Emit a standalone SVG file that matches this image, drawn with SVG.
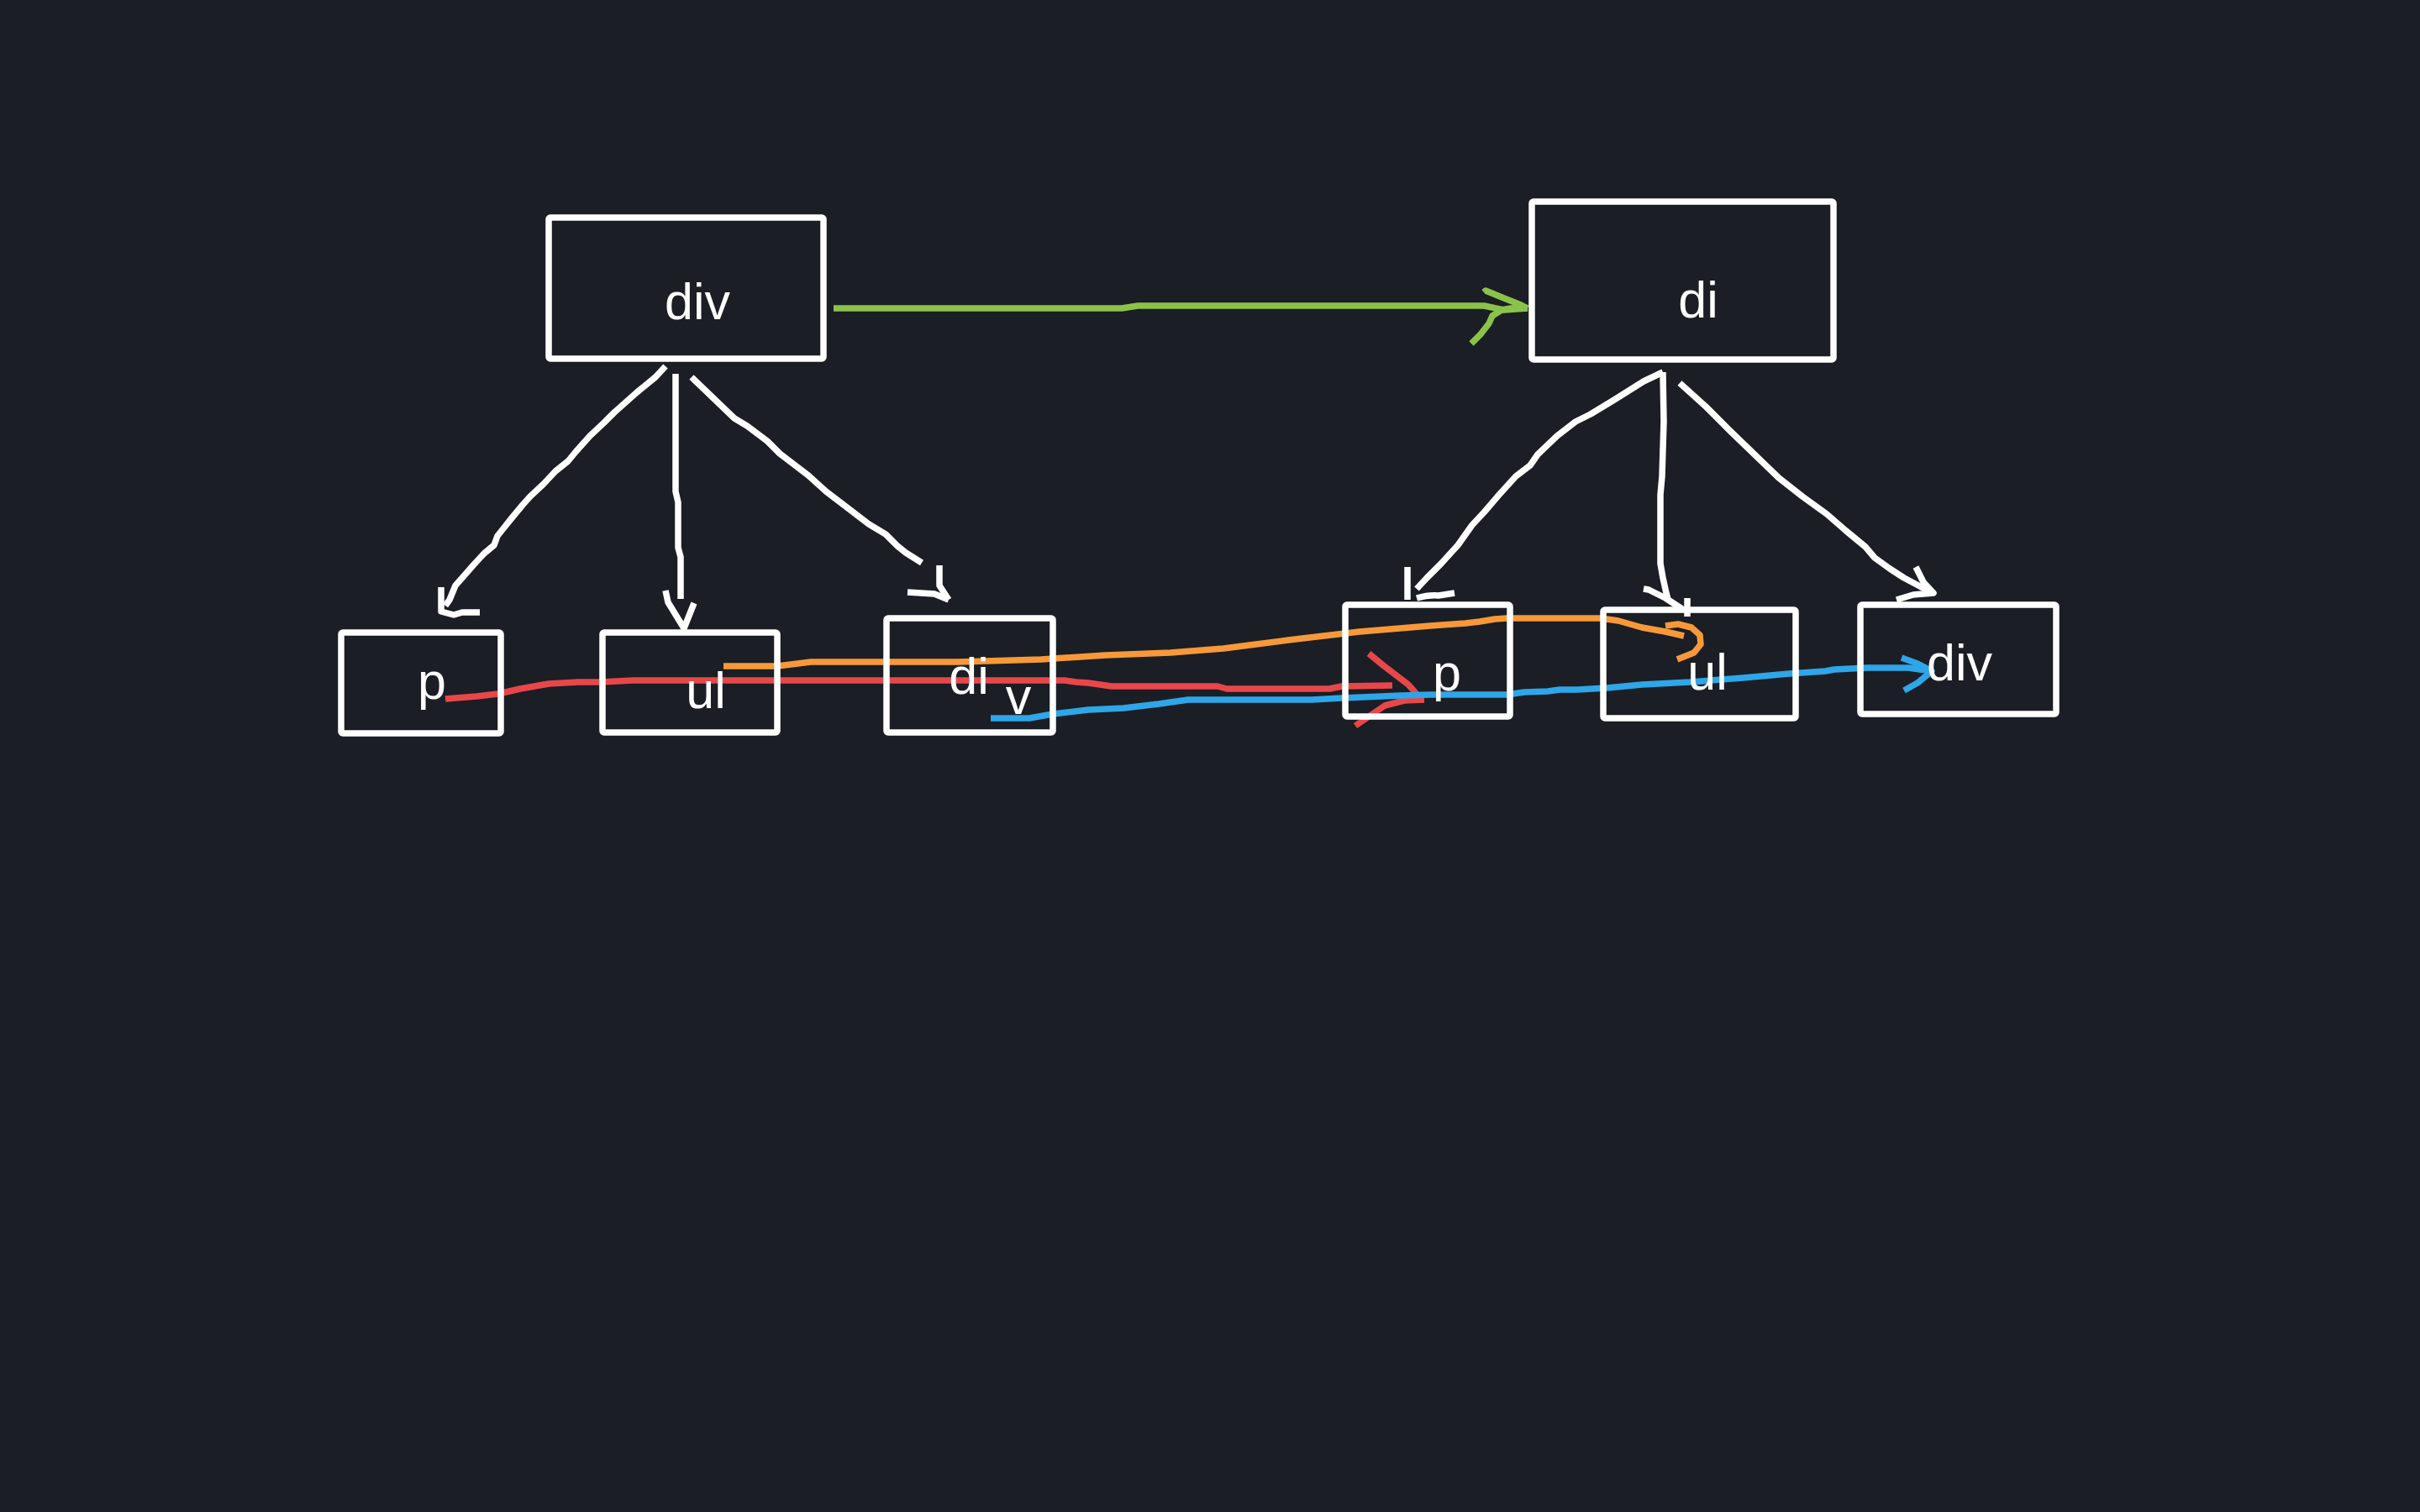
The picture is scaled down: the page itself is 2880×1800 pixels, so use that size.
<svg xmlns="http://www.w3.org/2000/svg" width="2880" height="1800" viewBox="0 0 2880 1800">
<style>
.box{fill:none;stroke:#ffffff;stroke-width:7.5;}
.lbl{font-family:"Liberation Sans",Arial,sans-serif;font-size:61px;fill:#ffffff;text-anchor:middle;}
.w{fill:none;stroke:#ffffff;stroke-width:7.5;stroke-linejoin:round;stroke-linecap:butt;}
.g{fill:none;stroke:#8bc34a;stroke-width:7.5;stroke-linejoin:round;}
.r{fill:none;stroke:#e8474a;stroke-width:7.5;stroke-linejoin:round;}
.o{fill:none;stroke:#f7993a;stroke-width:7.5;stroke-linejoin:round;}
.b{fill:none;stroke:#2ea6e8;stroke-width:7.5;stroke-linejoin:round;}
</style>
<rect x="0" y="0" width="2880" height="1800" fill="#1b1e24"/>
<g id="connectors">
<path class="w" d="M792,436 L780,449 L758,467 L731,491 L719,503 L702,519 L685,538 L676,549 L661,561 L647,576 L631,591 L622,601 L608,618 L600,628 L592,638 L588,649 L576,659 L564,672 L550,688 L542,697 L535,714 L530,721"/>
<path class="w" d="M525,699 L525,728 L540,732 L550,729 L571,729"/>
<path class="w" d="M804,445 L804,585 L807,598 L807,652 L810,663 L810,713"/>
<path class="w" d="M792,703 L795,717 L814,748 L826,718"/>
<path class="w" d="M823,449 L874,498 L889,507 L913,525 L928,540 L962,566 L983,585 L1034,624 L1054,636 L1068,650 L1078,658 L1097,670"/>
<path class="w" d="M1118,673 L1118,697 L1129,714 M1080,705 L1112,707 L1129,714"/>
<path class="w" d="M1979,443 L1956,454 L1921,476 L1893,493 L1875,502 L1853,519 L1830,541 L1821,554 L1804,567 L1784,589 L1766,610 L1752,625 L1735,649 L1715,671 L1698,688 L1686,701"/>
<path class="w" d="M1675,675 L1675,714 M1686,712 Q1700,708 1712,709 L1731,706"/>
<path class="w" d="M1979,443 L1980,502 L1978,567 L1976,589 L1976,671 L1979,688 L1983,706 L1985,714"/>
<path class="w" d="M1956,701 L1962,702 L1982,712 L2002,725 M2008,712 L2008,734"/>
<path class="w" d="M1999,456 L2030,484 L2059,513 L2088,541 L2117,569 L2145,591 L2174,612 L2197,632 L2220,651 L2231,664 L2249,677 L2266,688 L2283,697 L2300,706"/>
<path class="w" d="M2280,675 L2289,693 L2301,706 L2277,708 L2257,714"/>
<path class="g" d="M992,367 L1335,367 L1354,364 L1766,364 L1790,369 L1818,367"/>
<path class="g" d="M1766,348 L1768,346 L1790,355 L1810,363 L1818,367 M1751,409 L1762,398 L1772,385 L1776,376 L1787,369 L1798,367 L1818,367"/>
<path class="r" d="M530,832 L567,829 L593,826 L619,820 L653,814 L688,812 L714,812 L753,810 L1258,810 L1267,810 L1281,812 L1295,813 L1323,817 L1449,817 L1460,820 L1582,820 L1597,817 L1657,816"/>
<path class="r" d="M1629,778 L1646,792 L1663,805 L1676,815 L1684,824 L1690,833 M1613,864 L1629,853 L1648,840 L1671,834 L1695,833"/>
<path class="o" d="M861,793 L925,793 L965,788 L1140,788 L1239,785 L1316,780 L1393,777 L1456,772 L1533,762 L1618,752 L1702,745 L1744,742 L1761,740 L1779,737 L1793,736 L1905,736 L1926,739 L1954,747 L1982,752 L2004,757"/>
<path class="o" d="M1982,745 L1997,743 L2013,747 L2023,756 L2024,767 L2016,777 L1996,785"/>
<path class="b" d="M1179,855 L1225,855 L1253,850 L1295,845 L1337,843 L1379,838 L1414,833 L1561,833 L1597,831 L1667,828 L1702,827 L1793,827 L1814,824 L1842,823 L1856,821 L1877,821 L1912,819 L1954,815 L2011,812 L2074,807 L2129,802 L2172,799 L2183,797 L2222,795 L2271,795 L2300,799"/>
<path class="b" d="M2263,783 L2282,790 L2299,799 L2282,813 L2266,822"/>
</g>
<g id="node-div-top"><rect class="box" x="653" y="259" width="327" height="168" rx="2"/><text class="lbl" x="830" y="380">div</text></g>
<g id="node-di-top"><rect class="box" x="1823" y="240" width="359" height="188" rx="2"/><text class="lbl" x="2021" y="378">di</text></g>
<g id="node-p-left"><rect class="box" x="406" y="753" width="190" height="120" rx="2"/><text class="lbl" x="514" y="832">p</text></g>
<g id="node-ul-left"><rect class="box" x="717" y="753" width="208" height="119" rx="2"/><text class="lbl" x="840" y="843">ul</text></g>
<g id="node-div-left"><rect class="box" x="1055" y="736" width="198" height="136" rx="2"/><text class="lbl" x="1153" y="826">di</text><text class="lbl" x="1212" y="850">v</text></g>
<g id="node-p-right"><rect class="box" x="1601" y="720" width="196" height="133" rx="2"/><text class="lbl" x="1722" y="822">p</text></g>
<g id="node-ul-right"><rect class="box" x="1908" y="726" width="229" height="129" rx="2"/><text class="lbl" x="2032" y="821">ul</text></g>
<g id="node-div-right"><rect class="box" x="2214" y="720" width="233" height="130" rx="2"/><text class="lbl" x="2332" y="810">div</text></g>
</svg>
